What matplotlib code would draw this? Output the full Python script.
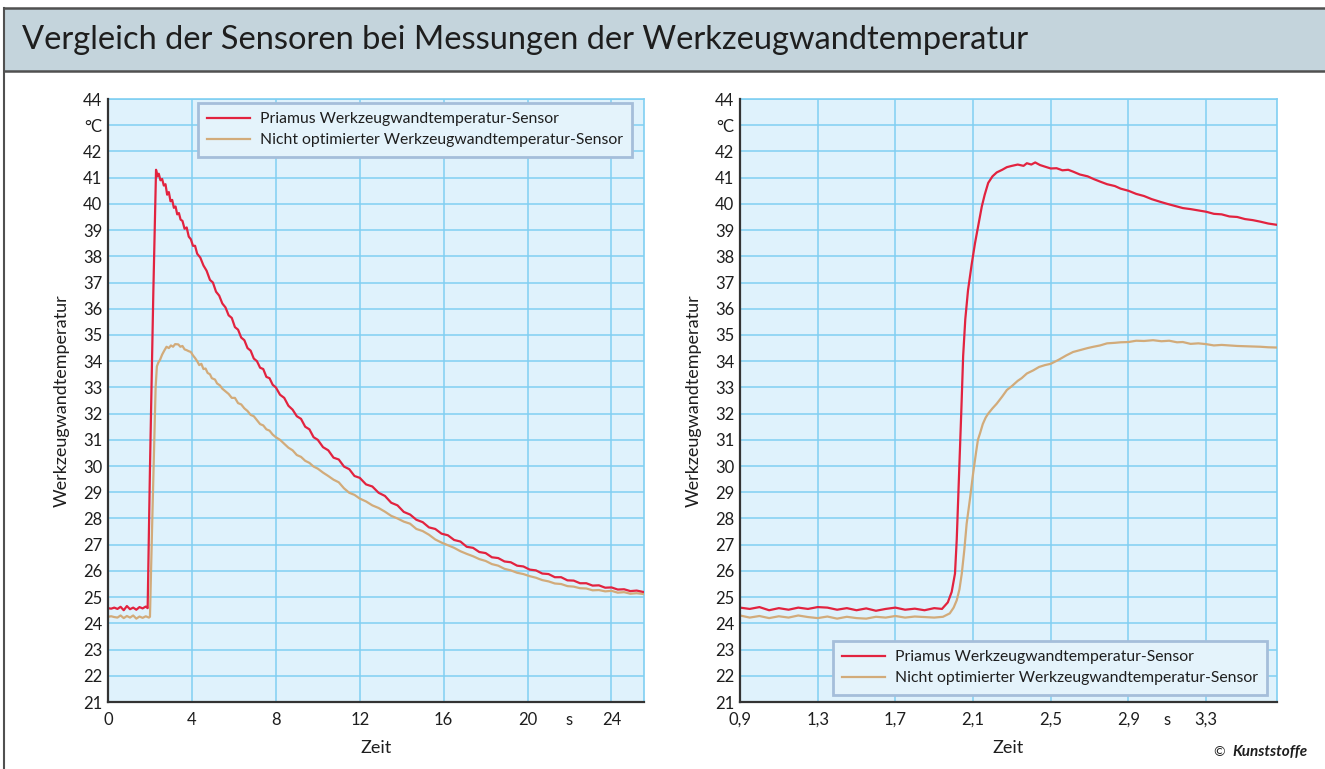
import matplotlib
matplotlib.use("Agg")
import matplotlib.pyplot as plt
from matplotlib.lines import Line2D
from matplotlib.patches import Rectangle

plt.rcParams['font.family'] = ['Lato', 'DejaVu Sans']

# ---------------- data ----------------
title = "Vergleich der Sensoren bei Messungen der Werkzeugwandtemperatur"
label_red = "Priamus Werkzeugwandtemperatur-Sensor"
label_tan = "Nicht optimierter Werkzeugwandtemperatur-Sensor"
ylabel = "Werkzeugwandtemperatur"
xlabel = "Zeit"

y_ticks = list(range(21, 45))
y_ticklabels = [str(v) if v != 43 else "°C" for v in y_ticks]

left_xticks = [0, 4, 8, 12, 16, 20, 24]
left_xticklabels = ["0", "4", "8", "12", "16", "20", "24"]
left_unit_pos = 22
right_xticks = [0.9, 1.3, 1.7, 2.1, 2.5, 2.9, 3.3]
right_xticklabels = ["0,9", "1,3", "1,7", "2,1", "2,5", "2,9", "3,3"]
right_unit_pos = 3.1

left_red_t = [0.00, 0.15, 0.30, 0.45, 0.60, 0.75, 0.90, 1.05, 1.20, 1.35, 1.50, 1.65, 1.80, 1.89,
              2.00, 2.16, 2.29,
              2.36, 2.42, 2.50, 2.58, 2.66, 2.74, 2.82, 2.90, 2.98, 3.06, 3.14, 3.22, 3.30, 3.38,
              3.46, 3.55, 3.65, 3.75, 3.85, 3.95, 4.05, 4.15, 4.25, 4.40, 4.55, 4.70, 4.86, 5.00,
              5.15, 5.30, 5.45, 5.60, 5.75, 5.90, 6.05, 6.20, 6.35, 6.50, 6.65, 6.80, 6.95, 7.10,
              7.25, 7.40, 7.55, 7.70, 7.85, 8.00, 8.20, 8.40, 8.60, 8.80, 9.00, 9.20, 9.40, 9.60,
              9.80, 10.00, 10.25, 10.50, 10.75, 11.00, 11.25, 11.50, 11.75, 12.00, 12.30, 12.60,
              12.90, 13.20, 13.50, 13.80, 14.10, 14.40, 14.70, 15.00, 15.30, 15.60, 15.90, 16.20,
              16.50, 16.80, 17.10, 17.40, 17.70, 18.00, 18.30, 18.60, 18.90, 19.20, 19.50, 19.80,
              20.10, 20.40, 20.70, 21.00, 21.30, 21.60, 21.90, 22.20, 22.50, 22.80, 23.10, 23.40,
              23.70, 24.00, 24.30, 24.60, 24.90, 25.20, 25.50]
left_red_T = [24.58, 24.56, 24.60, 24.55, 24.63, 24.50, 24.66, 24.54, 24.60, 24.52, 24.62, 24.57, 24.64, 24.58,
              29.9, 36.6, 41.3,
              41.05, 41.15, 40.9, 40.95, 40.7, 40.75, 40.35, 40.45, 40.1, 40.15, 39.85, 39.9, 39.6, 39.65,
              39.4, 39.35, 39.05, 39.1, 38.75, 38.65, 38.4, 38.4, 38.1, 37.95, 37.65, 37.45, 37.1, 37.0,
              36.65, 36.5, 36.2, 36.05, 35.75, 35.65, 35.3, 35.2, 34.9, 34.8, 34.5, 34.4, 34.1, 34.0,
              33.75, 33.7, 33.4, 33.35, 33.1, 33.0, 32.72, 32.6, 32.3, 32.15, 31.9, 31.8, 31.5, 31.4,
              31.1, 31.0, 30.72, 30.6, 30.32, 30.25, 29.98, 29.88, 29.62, 29.55, 29.3, 29.22,
              28.98, 28.86, 28.6, 28.5, 28.25, 28.15, 27.95, 27.86, 27.66, 27.6, 27.42, 27.36,
              27.18, 27.12, 26.92, 26.88, 26.72, 26.68, 26.52, 26.49, 26.36, 26.33, 26.2, 26.17,
              26.05, 26.02, 25.9, 25.88, 25.76, 25.76, 25.64, 25.63, 25.53, 25.53, 25.44, 25.45,
              25.36, 25.37, 25.29, 25.3, 25.23, 25.25, 25.2]

left_tan_t = [0.00, 0.15, 0.30, 0.45, 0.60, 0.75, 0.90, 1.05, 1.20, 1.35, 1.50, 1.65, 1.80, 1.95, 2.00,
              2.05, 2.10, 2.16, 2.22, 2.27, 2.33, 2.40, 2.48, 2.58, 2.68, 2.79, 2.90, 3.00, 3.10, 3.20,
              3.35, 3.45, 3.55, 3.65, 3.75, 3.85, 3.95, 4.05, 4.15, 4.25, 4.35, 4.45, 4.55, 4.65, 4.75,
              4.86, 4.95, 5.10, 5.20, 5.33, 5.45, 5.60, 5.75, 5.90, 6.05, 6.20, 6.35, 6.50, 6.65, 6.80,
              6.95, 7.10, 7.25, 7.40, 7.55, 7.70, 7.85, 8.00, 8.20, 8.40, 8.60, 8.80, 9.00, 9.20, 9.40,
              9.60, 9.80, 10.00, 10.25, 10.50, 10.75, 11.00, 11.25, 11.50, 11.75, 12.00, 12.30, 12.60,
              12.90, 13.20, 13.50, 13.80, 14.10, 14.40, 14.70, 15.00, 15.30, 15.60, 15.90, 16.20,
              16.50, 16.80, 17.10, 17.40, 17.70, 18.00, 18.30, 18.60, 18.90, 19.20, 19.50, 19.80,
              20.10, 20.40, 20.70, 21.00, 21.30, 21.60, 21.90, 22.20, 22.50, 22.80, 23.10, 23.40,
              23.70, 24.00, 24.30, 24.60, 24.90, 25.20, 25.50]
left_tan_T = [24.25, 24.27, 24.24, 24.22, 24.30, 24.20, 24.28, 24.22, 24.30, 24.18, 24.26, 24.21, 24.27, 24.22, 24.25,
              26.0, 27.6, 29.5, 31.5, 33.0, 33.8, 33.95, 34.05, 34.25, 34.4, 34.55, 34.5, 34.6, 34.55, 34.65,
              34.64, 34.55, 34.58, 34.45, 34.42, 34.38, 34.35, 34.22, 34.12, 34.0, 33.85, 33.9, 33.7, 33.72, 33.55,
              33.5, 33.35, 33.3, 33.15, 33.08, 32.95, 32.85, 32.75, 32.6, 32.6, 32.4, 32.35, 32.2, 32.1, 31.95,
              31.9, 31.75, 31.6, 31.55, 31.4, 31.35, 31.2, 31.1, 31.0, 30.85, 30.7, 30.6, 30.42, 30.35, 30.2,
              30.12, 29.98, 29.9, 29.75, 29.62, 29.48, 29.38, 29.15, 28.98, 28.9, 28.76, 28.65, 28.5,
              28.4, 28.26, 28.1, 28.0, 27.88, 27.8, 27.6, 27.52, 27.38, 27.2, 27.08, 26.98,
              26.88, 26.75, 26.65, 26.56, 26.45, 26.38, 26.26, 26.2, 26.08, 26.02, 25.93, 25.88,
              25.8, 25.74, 25.65, 25.6, 25.52, 25.5, 25.42, 25.4, 25.34, 25.33, 25.26, 25.27,
              25.22, 25.24, 25.17, 25.19, 25.13, 25.15, 25.12]

right_red_t = [0.90, 0.95, 1.00, 1.05, 1.10, 1.15, 1.20, 1.25, 1.30, 1.35, 1.40, 1.45, 1.50, 1.55, 1.60,
               1.65, 1.70, 1.75, 1.80, 1.85, 1.90, 1.94, 1.97, 1.99, 2.007, 2.016, 2.028, 2.04, 2.049,
               2.06, 2.074, 2.093, 2.11, 2.12, 2.135, 2.145, 2.16, 2.178, 2.20, 2.222, 2.25, 2.274, 2.30,
               2.33, 2.36, 2.377, 2.40, 2.42, 2.445, 2.47, 2.50, 2.53, 2.56, 2.59, 2.615, 2.65, 2.69,
               2.72, 2.754, 2.79, 2.83, 2.86, 2.90, 2.94, 2.98, 3.02, 3.063, 3.10, 3.14, 3.18, 3.22,
               3.26, 3.30, 3.34, 3.38, 3.42, 3.46, 3.50, 3.54, 3.58, 3.62, 3.665]
right_red_T = [24.60, 24.55, 24.62, 24.50, 24.58, 24.52, 24.60, 24.55, 24.62, 24.60, 24.52, 24.58, 24.50, 24.57, 24.48,
               24.55, 24.60, 24.52, 24.56, 24.50, 24.58, 24.55, 24.8, 25.2, 25.9, 27.2, 29.7, 32.2, 34.2,
               35.6, 36.7, 37.7, 38.5, 38.9, 39.5, 39.9, 40.35, 40.8, 41.05, 41.2, 41.3, 41.4, 41.45,
               41.5, 41.45, 41.55, 41.5, 41.58, 41.48, 41.42, 41.35, 41.36, 41.28, 41.3, 41.23, 41.12, 41.05,
               40.95, 40.85, 40.75, 40.68, 40.58, 40.5, 40.38, 40.3, 40.18, 40.08, 40.0, 39.92, 39.84, 39.8,
               39.75, 39.7, 39.62, 39.6, 39.52, 39.5, 39.42, 39.38, 39.32, 39.25, 39.2]

right_tan_t = [0.90, 0.95, 1.00, 1.05, 1.10, 1.15, 1.20, 1.25, 1.30, 1.35, 1.40, 1.45, 1.50, 1.55, 1.60,
               1.65, 1.70, 1.75, 1.80, 1.85, 1.90, 1.945, 1.98, 2.00, 2.016, 2.03, 2.042, 2.055, 2.067,
               2.085, 2.10, 2.115, 2.125, 2.136, 2.15, 2.165, 2.178, 2.20, 2.222, 2.25, 2.274, 2.30, 2.33,
               2.35, 2.377, 2.41, 2.44, 2.47, 2.50, 2.54, 2.58, 2.615, 2.65, 2.69, 2.72, 2.754, 2.79,
               2.83, 2.86, 2.90, 2.94, 2.98, 3.027, 3.07, 3.11, 3.15, 3.18, 3.22, 3.26, 3.30, 3.34, 3.38,
               3.42, 3.46, 3.50, 3.54, 3.58, 3.62, 3.665]
right_tan_T = [24.30, 24.22, 24.28, 24.20, 24.27, 24.22, 24.30, 24.24, 24.20, 24.26, 24.18, 24.25, 24.20, 24.18, 24.25,
               24.22, 24.28, 24.22, 24.26, 24.24, 24.22, 24.25, 24.38, 24.6, 24.88, 25.3, 25.9, 26.8, 27.8,
               28.8, 29.7, 30.5, 31.0, 31.25, 31.6, 31.85, 32.0, 32.2, 32.38, 32.65, 32.9, 33.05, 33.25,
               33.35, 33.53, 33.65, 33.78, 33.85, 33.9, 34.05, 34.22, 34.35, 34.42, 34.5, 34.55, 34.6, 34.68,
               34.7, 34.72, 34.73, 34.78, 34.77, 34.8, 34.76, 34.78, 34.72, 34.73, 34.66, 34.68, 34.65, 34.6, 34.62,
               34.6, 34.58, 34.57, 34.56, 34.55, 34.53, 34.52]

# ---------------- style ----------------
W, H = 1325, 769
RED = "#E2233F"
TAN = "#D2AB7A"
BG = "#DFF2FC"
GRID = "#80CFF2"
DARK = "#333333"
TXT = "#1E1E1E"

fig = plt.figure(figsize=(W / 100, H / 100), dpi=100)
fig.patch.set_facecolor("white")


def fx(px):
    return px / W


def fy(py):
    return 1 - py / H


# title bar
fig.patches.append(Rectangle((fx(4), fy(71)), 1 - fx(4), fy(8) - fy(71), transform=fig.transFigure,
                             facecolor="#C4D4DC", edgecolor="none", zorder=0))
for yy in (8, 71):
    fig.lines.append(Line2D([fx(4), 1], [fy(yy), fy(yy)], transform=fig.transFigure,
                            color="#505050", lw=1.8))
fig.lines.append(Line2D([fx(4), fx(4)], [0, fy(8)], transform=fig.transFigure, color="#505050", lw=1.5))

t = fig.text(fx(22), fy(40), title, ha="left", va="center", fontsize=21.6, color=TXT)
fig.canvas.draw()
wpx = t.get_window_extent(renderer=fig.canvas.get_renderer()).width
t.set_fontsize(21.6 * 1008 / wpx)

ax_bottom = fy(702)
ax_h = fy(99) - fy(702)
axL = fig.add_axes([fx(108), ax_bottom, fx(644) - fx(108), ax_h])
axR = fig.add_axes([fx(740), ax_bottom, fx(1277) - fx(740), ax_h])

panels = [
    (axL, left_red_t, left_red_T, left_tan_t, left_tan_T, (0, 25.55), left_xticks, left_xticklabels,
     left_unit_pos),
    (axR, right_red_t, right_red_T, right_tan_t, right_tan_T, (0.9, 3.665), right_xticks, right_xticklabels,
     right_unit_pos),
]

for ax, rt, rT, tt, tT, xl, xt, xtl, upos in panels:
    ax.set_facecolor(BG)
    ax.plot(tt, tT, color=TAN, lw=1.6, zorder=3, label=label_tan)
    ax.plot(rt, rT, color=RED, lw=1.6, zorder=4, label=label_red)
    ax.set_xlim(*xl)
    ax.set_ylim(21, 44)
    ax.set_yticks(y_ticks)
    ax.set_yticklabels(y_ticklabels)
    ax.set_xticks(xt)
    ax.set_xticklabels(xtl)
    ax.set_xticks([upos], minor=True)
    ax.set_xticklabels(["s"], minor=True)
    ax.tick_params(axis="both", which="both", length=0, labelsize=12, colors=TXT)
    ax.tick_params(axis="y", pad=4)
    ax.tick_params(axis="x", which="both", pad=7)
    ax.grid(True, which="major", color=GRID, lw=1.1, zorder=1)
    ax.set_axisbelow(True)
    for s in ("left", "bottom"):
        ax.spines[s].set_color(DARK)
        ax.spines[s].set_linewidth(1.6)
        ax.spines[s].set_zorder(5)
    for s in ("top", "right"):
        ax.spines[s].set_color(GRID)
        ax.spines[s].set_linewidth(1.2)
    ax.set_ylabel(ylabel, fontsize=13, color=TXT)
    ax.yaxis.label.set_va("center")
    ax.yaxis.set_label_coords((62 - 108) / 536, 0.5)
    ax.set_xlabel(xlabel, fontsize=13, color=TXT)
    ax.xaxis.label.set_va("center")
    ax.xaxis.set_label_coords(0.5, (702 - 748) / 603.0)

order = [1, 0]
for ax, anchor in ((axL, (fx(198), fy(103))), (axR, (fx(833), fy(641)))):
    h, l = ax.get_legend_handles_labels()
    leg = ax.legend([h[i] for i in order], [l[i] for i in order], loc="upper left",
                    bbox_to_anchor=anchor, bbox_transform=fig.transFigure, borderaxespad=0,
                    fontsize=11.3, frameon=True, fancybox=False, framealpha=1,
                    facecolor="#E4F3FB", edgecolor="#A5BEDA", handlelength=2.7,
                    handletextpad=0.65, labelspacing=0.45, borderpad=0.6)
    leg.get_frame().set_linewidth(2.0)
    for txt in leg.get_texts():
        txt.set_color(TXT)
    leg.set_zorder(10)

fig.text(fx(1213), fy(752), "©", fontsize=10, color=TXT, ha="left", va="center")
fig.text(fx(1232), fy(752), "Kunststoffe", fontsize=11, color=TXT, ha="left", va="center",
         fontweight="bold", fontstyle="italic")

fig.savefig("out.png", dpi=100)
